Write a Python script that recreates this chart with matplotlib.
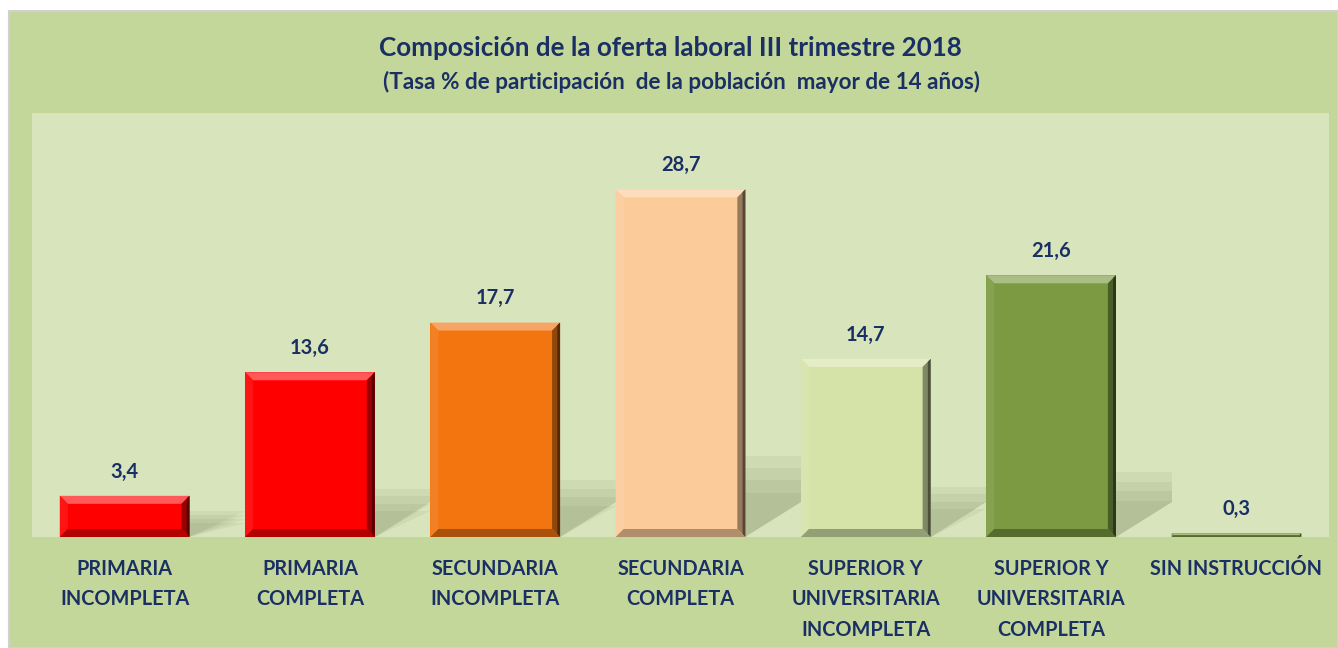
import matplotlib
matplotlib.use("Agg")
import matplotlib.pyplot as plt
from matplotlib.patches import Rectangle, Polygon
import matplotlib.colors as mcolors
import numpy as np

plt.rcParams["font.family"] = ["Lato", "DejaVu Sans"]

title = "Composición de la oferta laboral III trimestre 2018"
subtitle = "(Tasa % de participación  de la población  mayor de 14 años)"
categories = [
    "PRIMARIA\nINCOMPLETA",
    "PRIMARIA\nCOMPLETA",
    "SECUNDARIA\nINCOMPLETA",
    "SECUNDARIA\nCOMPLETA",
    "SUPERIOR Y\nUNIVERSITARIA\nINCOMPLETA",
    "SUPERIOR Y\nUNIVERSITARIA\nCOMPLETA",
    "SIN INSTRUCCIÓN",
]
values = [3.4, 13.6, 17.7, 28.7, 14.7, 21.6, 0.3]
bar_colors = ["#ff0000", "#ff0000", "#f27510", "#fccb9a", "#d5e3a8", "#7b9a41", "#7b9a41"]

NAVY = "#1a2f63"
OUTER = "#c4d79b"
INNER = "#d8e4bc"


def shade(color, f):
    # f > 0 lightens towards white, f < 0 darkens towards black
    r, g, b = mcolors.to_rgb(color)
    if f >= 0:
        return (r + (1 - r) * f, g + (1 - g) * f, b + (1 - b) * f)
    return (r * (1 + f), g * (1 + f), b * (1 + f))


fig = plt.figure(figsize=(13.38, 6.48), dpi=100, facecolor="white")
fig.patches.append(Rectangle((9 / 1338, 0), 1 - 9 / 1338, 1 - 11 / 648,
                             transform=fig.transFigure, facecolor=OUTER,
                             edgecolor="#d0d0d0", linewidth=1.5, zorder=-5))

ax = fig.add_axes([32 / 1338, 1 - 537 / 648, 1297 / 1338, (537 - 113) / 648])
ax.set_facecolor(INNER)
for s in ax.spines.values():
    s.set_visible(False)
ax.set_xlim(-0.5, len(values) - 0.5)
ax.set_ylim(0, 35)
ax.set_yticks([])

x = np.arange(len(values))
width = 0.70
bars = ax.bar(x, values, width=width, color=bar_colors, zorder=3, linewidth=0)

# bevel size in data units (about 8 px)
bx = 8 / 185.3
by = 8 / 12.11
for rect, col, v in zip(bars, bar_colors, values):
    x0 = rect.get_x()
    x1 = x0 + rect.get_width()
    h = rect.get_height()
    dy = min(by, h / 2)
    dx = min(bx, bx * dy / by) if h < 2 * by else bx
    # soft cast shadow on the back wall, right of the bar
    if h > 2:
        hs = min(0.18 * h + 1.5, 0.8 * h)
        w = 0.3
        slope = 9.5
        for f in (1.0, 0.85, 0.7, 0.55):
            ax.add_patch(Polygon([(x1, 0), (x1, hs * f), (x1 + w, hs * f), (x1 + w, min(slope * w, hs * f))],
                                 closed=True, facecolor="#2a3a10", alpha=0.055, linewidth=0, zorder=2))
    # top highlight
    ax.add_patch(Polygon([(x0, h), (x1, h), (x1 - dx, h - dy), (x0 + dx, h - dy)],
                         facecolor=shade(col, 0.35), linewidth=0, zorder=4))
    # left
    ax.add_patch(Polygon([(x0, h), (x0 + dx, h - dy), (x0 + dx, dy), (x0, 0)],
                         facecolor=shade(col, 0.08), linewidth=0, zorder=4))
    # right
    ax.add_patch(Polygon([(x1, h), (x1 - dx, h - dy), (x1 - dx, dy), (x1, 0)],
                         facecolor=shade(col, -0.4), linewidth=0, zorder=4))
    ax.add_patch(Polygon([(x1, h), (x1 - dx * 0.35, h - dy * 0.35), (x1 - dx * 0.35, dy * 0.35), (x1, 0)],
                         facecolor=shade(col, -0.65), linewidth=0, zorder=4))
    # bottom
    ax.add_patch(Polygon([(x0, 0), (x0 + dx, dy), (x1 - dx, dy), (x1, 0)],
                         facecolor=shade(col, -0.3), linewidth=0, zorder=4))
    ax.annotate(f"{v:.1f}".replace(".", ","), (rect.get_x() + rect.get_width() / 2, h),
                xytext=(0, 17.5), textcoords="offset points", ha="center", va="center",
                fontsize=14.5, fontweight="bold", color=NAVY, zorder=5)

ax.set_xticks(x)
ax.set_xticklabels(categories, fontsize=14.3, fontweight="bold", color=NAVY,
                   linespacing=1.66, va="top")
ax.tick_params(axis="x", length=0, pad=15.5)

fig.text(670 / 1338, 1 - 48 / 648, title, ha="center", va="center",
         fontsize=18.7, fontweight="bold", color=NAVY)
fig.text(682 / 1338, 1 - 82 / 648, subtitle, ha="center", va="center",
         fontsize=16.2, fontweight="bold", color=NAVY)

fig.savefig("out.png", dpi=100, facecolor="white")
